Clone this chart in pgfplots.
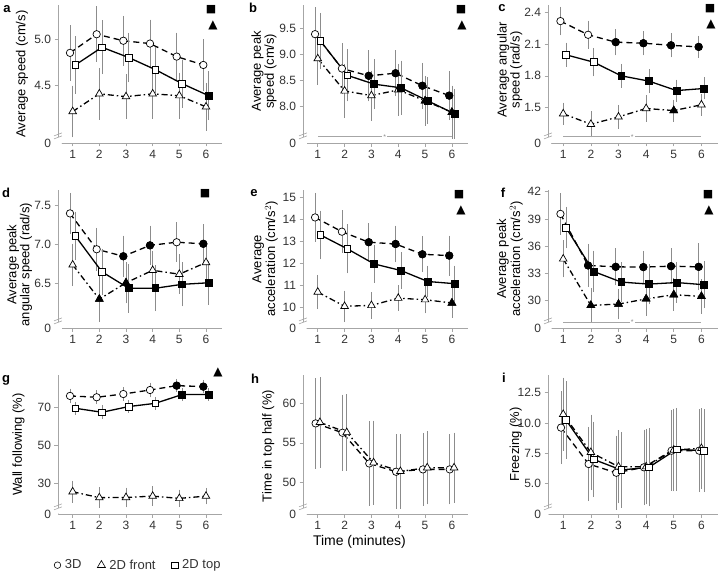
\documentclass[border=0pt]{standalone}
\usepackage{fontspec}
\setmainfont{Liberation Sans}
\newfontfamily\symfont{DejaVu Sans}
\usepackage{pgfplots}
\pgfplotsset{compat=1.18}
\definecolor{axgray}{HTML}{A6A6A6}
\definecolor{errgray}{HTML}{8C8C8C}
\definecolor{tickgray}{HTML}{333333}
\newcommand{\fs}{\fontsize{13}{11.8}\selectfont}
\newcommand{\ft}{\fontsize{12}{13}\selectfont}
\pgfplotsset{
  base/.style={scale only axis, axis x line*=bottom, axis y line*=left,
    axis line style={draw=axgray, line width=0.9pt},
    tick style={draw=axgray, line width=0.6pt}, tick align=outside, major tick length=3.5pt,
    xtick={1,2,3,4,5,6}, xticklabels={1,2,3,4,5,6},
    ticklabel style={text=tickgray, font=\ft},
    xmin=0.45, xmax=6.6, clip=false,
    ylabel style={font=\fs, align=center, anchor=center, text=black}},
  ebar/.style={error bars/y dir=both, error bars/y explicit,
    error bars/error bar style={solid, errgray, line width=0.6pt},
    error bars/error mark options={solid, errgray, line width=0.6pt, mark size=2.6pt}},
  s3d/.style={black, line width=1.3pt, dash pattern=on 6pt off 4pt, mark=*, mark size=3.7pt,
    mark options={solid, fill=white, draw=black, line width=0.7pt}, ebar},
  s2f/.style={black, line width=1.3pt, dash pattern=on 6pt off 3pt on 1.5pt off 3pt, mark=triangle*, mark size=4.4pt,
    mark options={solid, fill=white, draw=black, line width=0.7pt}, ebar},
  s2t/.style={black, line width=1.3pt, solid, mark=square*, mark size=3.4pt,
    mark options={solid, fill=white, draw=black, line width=0.7pt}, ebar},
  f3d/.style={only marks, mark=*, mark size=3.7pt, mark options={solid, fill=black, draw=black, line width=0.7pt}},
  f2f/.style={only marks, mark=triangle*, mark size=4.4pt, mark options={solid, fill=black, draw=black, line width=0.7pt}},
  f2t/.style={only marks, mark=square*, mark size=3.4pt, mark options={solid, fill=black, draw=black, line width=0.7pt}},
}
\newcommand{\brk}{%
  \fill[white] (rel axis cs:0,0.048) ++(-4pt,-2.5pt) -- ++(8pt,3pt) -- ++(0,3pt) -- ++(-8pt,-3pt) -- cycle;
  \draw[axgray, line width=0.6pt] (rel axis cs:0,0.048) ++(-4pt,-2.5pt) -- ++(8pt,3pt);
  \draw[axgray, line width=0.6pt] (rel axis cs:0,0.048) ++(-4pt,0.5pt) -- ++(8pt,3pt);}
\newcommand{\sig}[1]{%
  \draw[axgray, line width=0.6pt] (axis cs:1,#1) -- (axis cs:6,#1);
  \node[fill=white, inner sep=1pt, font=\fontsize{7}{7}\selectfont, text=errgray] at (axis cs:3.5,#1) {*};}
\newcommand{\sq}{{\symfont\fontsize{11}{11}\selectfont ■}}
\newcommand{\tri}{{\symfont\fontsize{12}{12}\selectfont ▲}}
\begin{document}
\begin{tikzpicture}[x=1pt,y=1pt]
\useasboundingbox (0,0) rectangle (720,573);

% ---------- a ----------
\begin{axis}[base, at={(58pt,430pt)}, anchor=south west, width=164pt, height=138pt,
  ymin=3.882, ymax=5.364, ytick={3.882,4.5,5.0}, yticklabels={0,4.5,5.0},
  ylabel={Average speed (cm/s)}, ylabel style={at={(axis description cs:-0.22,0.5)}}]
\addplot[s2f] coordinates {(1,4.22) +- (0,0.25) (2,4.41) +- (0,0.25) (3,4.38) +- (0,0.21) (4,4.41) +- (0,0.24) (5,4.39) +- (0,0.22) (6,4.27) +- (0,0.23)};
\addplot[s3d] coordinates {(0.9,4.85) +- (0,0.27) (1.9,5.05) +- (0,0.27) (2.9,4.98) +- (0,0.24) (3.9,4.95) +- (0,0.23) (4.9,4.81) +- (0,0.23) (5.9,4.72) +- (0,0.25)};
\addplot[s2t] coordinates {(1.1,4.72) +- (0,0.28) (2.1,4.91) +- (0,0.26) (3.1,4.80) +- (0,0.24) (4.1,4.67) +- (0,0.22) (5.1,4.52) +- (0,0.23) (6.1,4.39) +- (0,0.235)};
\addplot[f2t] coordinates {(6.1,4.39)};
\brk
\end{axis}

% ---------- b ----------
\begin{axis}[base, at={(303pt,430pt)}, anchor=south west, width=165pt, height=138pt,
  ymin=7.30, ymax=9.95, ytick={7.30,8.0,8.5,9.0,9.5}, yticklabels={0,8.0,8.5,9.0,9.5},
  ylabel={Average peak\\speed (cm/s)}, ylabel style={at={(axis description cs:-0.236,0.52)}}]
\addplot[s2f] coordinates {(1,8.92) +- (0,0.45) (2,8.30) +- (0,0.47) (3,8.21) +- (0,0.43) (4,8.32) +- (0,0.45) (5,8.11) +- (0,0.43) (6,7.89) +- (0,0.46)};
\addplot[s3d] coordinates {(0.9,9.39) +- (0,0.47) (1.9,8.73) +- (0,0.44) (2.9,8.59) +- (0,0.44) (3.9,8.64) +- (0,0.39) (4.9,8.40) +- (0,0.39) (5.9,8.21) +- (0,0.42)};
\addplot[s2t] coordinates {(1.1,9.26) +- (0,0.49) (2.1,8.60) +- (0,0.45) (3.1,8.43) +- (0,0.43) (4.1,8.36) +- (0,0.47) (5.1,8.11) +- (0,0.40) (6.1,7.86) +- (0,0.43)};
\addplot[f3d] coordinates {(2.9,8.59) (3.9,8.64) (4.9,8.40) (5.9,8.21)};
\addplot[f2f] coordinates {(5,8.11) (6,7.89)};
\addplot[f2t] coordinates {(3.1,8.43) (4.1,8.36) (5.1,8.11) (6.1,7.86)};
\brk
\sig{7.42}
\end{axis}

% ---------- c ----------
\begin{axis}[base, at={(548pt,430pt)}, anchor=south west, width=170pt, height=138pt,
  ymin=1.162, ymax=2.473, ytick={1.162,1.5,1.8,2.1,2.4}, yticklabels={0,1.5,1.8,2.1,2.4},
  ylabel={Average angular\\speed (rad/s)}, ylabel style={at={(axis description cs:-0.225,0.53)}}]
\addplot[s2f] coordinates {(1,1.44) +- (0,0.08) (2,1.34) +- (0,0.10) (3,1.41) +- (0,0.09) (4,1.49) +- (0,0.10) (5,1.47) +- (0,0.08) (6,1.525) +- (0,0.08)};
\addplot[s3d] coordinates {(0.9,2.32) +- (0,0.11) (1.9,2.19) +- (0,0.11) (2.9,2.12) +- (0,0.10) (3.9,2.11) +- (0,0.09) (4.9,2.09) +- (0,0.09) (5.9,2.075) +- (0,0.08)};
\addplot[s2t] coordinates {(1.1,2.00) +- (0,0.09) (2.1,1.93) +- (0,0.11) (3.1,1.80) +- (0,0.09) (4.1,1.75) +- (0,0.09) (5.1,1.66) +- (0,0.08) (6.1,1.68) +- (0,0.08)};
\addplot[f3d] coordinates {(2.9,2.12) (3.9,2.11) (4.9,2.09) (5.9,2.075)};
\addplot[f2f] coordinates {(5,1.47)};
\addplot[f2t] coordinates {(3.1,1.80) (4.1,1.75) (5.1,1.66) (6.1,1.68)};
\brk
\sig{1.221}
\end{axis}

% ---------- d ----------
\begin{axis}[base, at={(58pt,245pt)}, anchor=south west, width=164pt, height=138pt,
  ymin=5.93, ymax=7.70, ytick={5.93,6.5,7.0,7.5}, yticklabels={0,6.5,7.0,7.5},
  ylabel={Average peak\\angular speed (rad/s)}, ylabel style={at={(axis description cs:-0.235,0.46)}}]
\addplot[s2f] coordinates {(1,6.74) +- (0,0.24) (2,6.30) +- (0,0.26) (3,6.51) +- (0,0.23) (4,6.67) +- (0,0.22) (5,6.62) +- (0,0.22) (6,6.77) +- (0,0.23)};
\addplot[s3d] coordinates {(0.9,7.40) +- (0,0.23) (1.9,6.94) +- (0,0.24) (2.9,6.85) +- (0,0.23) (3.9,6.99) +- (0,0.22) (4.9,7.03) +- (0,0.22) (5.9,7.01) +- (0,0.22)};
\addplot[s2t] coordinates {(1.1,7.11) +- (0,0.28) (2.1,6.65) +- (0,0.26) (3.1,6.44) +- (0,0.28) (4.1,6.44) +- (0,0.26) (5.1,6.49) +- (0,0.25) (6.1,6.51) +- (0,0.25)};
\addplot[f3d] coordinates {(2.9,6.85) (3.9,6.99) (5.9,7.01)};
\addplot[f2f] coordinates {(2,6.30) (3,6.51)};
\addplot[f2t] coordinates {(3.1,6.44) (4.1,6.44) (5.1,6.49) (6.1,6.51)};
\brk
\end{axis}

% ---------- e ----------
\begin{axis}[base, at={(303pt,245pt)}, anchor=south west, width=165pt, height=138pt,
  ymin=9.06, ymax=15.35, ytick={9.06,10,11,12,13,14,15}, yticklabels={0,10,11,12,13,14,15},
  ylabel={Average\\acceleration (cm/s$^{2}$)}, ylabel style={at={(axis description cs:-0.23,0.5)}}]
\addplot[s2f] coordinates {(1,10.70) +- (0,0.66) (2,10.05) +- (0,0.60) (3,10.09) +- (0,0.49) (4,10.42) +- (0,0.46) (5,10.35) +- (0,0.50) (6,10.20) +- (0,0.56)};
\addplot[s3d] coordinates {(0.9,14.10) +- (0,1.0) (1.9,13.45) +- (0,0.85) (2.9,12.97) +- (0,0.74) (3.9,12.89) +- (0,0.72) (4.9,12.42) +- (0,0.70) (5.9,12.36) +- (0,0.79)};
\addplot[s2t] coordinates {(1.1,13.30) +- (0,0.99) (2.1,12.67) +- (0,1.0) (3.1,11.98) +- (0,0.75) (4.1,11.68) +- (0,0.71) (5.1,11.18) +- (0,0.61) (6.1,11.08) +- (0,0.71)};
\addplot[f3d] coordinates {(2.9,12.97) (3.9,12.89) (4.9,12.42) (5.9,12.36)};
\addplot[f2f] coordinates {(6,10.20)};
\addplot[f2t] coordinates {(3.1,11.98) (4.1,11.68) (5.1,11.18) (6.1,11.08)};
\brk
\end{axis}

% ---------- f ----------
\begin{axis}[base, at={(548pt,245pt)}, anchor=south west, width=170pt, height=138pt,
  ymin=27.0, ymax=42.18, ytick={27,30,33,36,39,42}, yticklabels={0,30,33,36,39,42},
  ylabel={Average peak\\acceleration (cm/s$^{2}$)}, ylabel style={at={(axis description cs:-0.225,0.5)}}]
\addplot[s2f] coordinates {(1,34.6) +- (0,1.75) (2,29.49) +- (0,1.6) (3,29.63) +- (0,1.4) (4,30.2) +- (0,1.55) (5,30.66) +- (0,1.5) (6,30.48) +- (0,1.6)};
\addplot[s3d] coordinates {(0.9,39.55) +- (0,2.0) (1.9,33.88) +- (0,2.1) (2.9,33.73) +- (0,1.75) (3.9,33.70) +- (0,1.5) (4.9,33.80) +- (0,1.7) (5.9,33.73) +- (0,2.3)};
\addplot[s2t] coordinates {(1.1,38.05) +- (0,2.0) (2.1,33.22) +- (0,2.0) (3.1,32.05) +- (0,1.9) (4.1,31.83) +- (0,1.95) (5.1,32.00) +- (0,1.95) (6.1,31.76) +- (0,2.3)};
\addplot[f3d] coordinates {(1.9,33.88) (2.9,33.73) (3.9,33.70) (4.9,33.80) (5.9,33.73)};
\addplot[f2f] coordinates {(2,29.49) (3,29.63) (4,30.2) (5,30.66) (6,30.48)};
\addplot[f2t] coordinates {(2.1,33.22) (3.1,32.05) (4.1,31.83) (5.1,32.00) (6.1,31.76)};
\brk
\sig{27.68}
\end{axis}

% ---------- g ----------
\begin{axis}[base, at={(58pt,59pt)}, anchor=south west, width=164pt, height=139pt,
  ymin=13.9, ymax=87, ytick={13.9,30,50,70}, yticklabels={0,30,50,70},
  ylabel={Wall following (\%)}, ylabel style={at={(axis description cs:-0.24,0.5)}},
  legend style={at={(axis description cs:0.49,-0.368)}, anchor=center, draw=none, fill=none,
    legend columns=3, font=\fs, text=tickgray, /tikz/every odd column/.append style={column sep=2pt},
    /tikz/every even column/.append style={column sep=14pt}},
  legend cell align=left,
  legend image code/.code={\draw[#1] plot coordinates {(0.2cm,0cm)};}]
\addlegendimage{only marks, mark=o, mark size=3.3pt, black, line width=0.6pt}
\addlegendentry{3D}
\addlegendimage{only marks, mark=triangle, mark size=4.6pt, black, line width=0.6pt}
\addlegendentry{2D front}
\addlegendimage{only marks, mark=square, mark size=3.3pt, black, line width=0.6pt}
\addlegendentry{2D top}
\addplot[s2f] coordinates {(1,25.6) +- (0,4.5) (2,22.5) +- (0,4) (3,22.6) +- (0,3.8) (4,23.3) +- (0,3.7) (5,22.1) +- (0,3.2) (6,23.3) +- (0,3)};
\addplot[s3d] coordinates {(0.9,76.0) +- (0,2.5) (1.9,75.3) +- (0,2.2) (2.9,77.0) +- (0,2.2) (3.9,79.1) +- (0,2.5) (4.9,81.4) +- (0,2.2) (5.9,80.9) +- (0,2.2)};
\addplot[s2t] coordinates {(1.1,69.5) +- (0,2) (2.1,67.4) +- (0,2.2) (3.1,70.4) +- (0,2) (4.1,72.1) +- (0,2) (5.1,76.7) +- (0,2) (6.1,76.7) +- (0,2)};
\addplot[f3d] coordinates {(4.9,81.4) (5.9,80.9)};
\addplot[f2t] coordinates {(5.1,76.7) (6.1,76.7)};
\brk
\end{axis}

% ---------- h ----------
\begin{axis}[base, at={(303pt,59pt)}, anchor=south west, width=165pt, height=139pt,
  ymin=46.0, ymax=63.6, ytick={46,50,55,60}, yticklabels={0,50,55,60},
  ylabel={Time in top half (\%)}, ylabel style={at={(axis description cs:-0.21,0.49)}},
  xlabel={Time (minutes)}, xlabel style={font=\fontsize{14}{15}\selectfont, at={(axis description cs:0.342,-0.2)}, anchor=center}]
\addplot[s3d] coordinates {(0.92,57.47) +- (0,5.4) (1.92,56.29) +- (0,4.5) (2.92,52.4) +- (0,5.0) (3.92,51.35) +- (0,4.4) (4.92,51.65) +- (0,4.3) (5.92,51.65) +- (0,4.1)};
\addplot[s2f] coordinates {(1.08,57.6) +- (0,5.4) (2.08,56.33) +- (0,4.5) (3.08,52.5) +- (0,5.0) (4.08,51.4) +- (0,4.4) (5.08,51.86) +- (0,4.3) (6.08,51.86) +- (0,4.1)};
\brk
\end{axis}

% ---------- i ----------
\begin{axis}[base, at={(548pt,59pt)}, anchor=south west, width=170pt, height=139pt,
  ymin=2.5, ymax=13.96, ytick={2.5,5,7.5,10,12.5}, yticklabels={0,5.0,7.5,10.0,12.5},
  ylabel={Freezing (\%)}, ylabel style={at={(axis description cs:-0.19,0.5)}}]
\addplot[s3d] coordinates {(0.92,9.62) +- (0,2.8) (1.92,6.62) +- (0,2.85) (2.92,5.90) +- (0,2.85) (3.92,6.35) +- (0,2.9) (4.92,7.72) +- (0,3.1) (5.92,7.72) +- (0,3.2)};
\addplot[s2f] coordinates {(1,10.72) +- (0,2.8) (2,7.58) +- (0,2.9) (3,6.40) +- (0,2.8) (4,6.40) +- (0,2.9) (5,7.78) +- (0,3.2) (6,7.91) +- (0,3.1)};
\addplot[s2t] coordinates {(1.1,10.25) +- (0,3.0) (2.1,7.0) +- (0,2.9) (3.1,6.13) +- (0,2.9) (4.1,6.35) +- (0,3.0) (5.1,7.83) +- (0,3.2) (6.1,7.72) +- (0,3.2)};
\brk
\end{axis}

% ---------- panel letters ----------
\foreach \l/\px/\py in {a/7/564, b/253/565, c/502/565, d/6/380, e/254/380, f/503/380, g/6/193, h/255/194, i/504/195}
  \node[font=\fs\bfseries] at (\px,\py) {\l};

% ---------- significance symbols ----------
\node at (211,563) {\sq};  \node at (213,548) {\tri};
\node at (461,563) {\sq};  \node at (462,548) {\tri};
\node at (710,564) {\sq};  \node at (711,549) {\tri};
\node at (205,379) {\sq};
\node at (459,378) {\sq};  \node at (461,363) {\tri};
\node at (708,378) {\sq};  \node at (709,363) {\tri};
\node at (218,201) {\tri};
\end{tikzpicture}
\end{document}
